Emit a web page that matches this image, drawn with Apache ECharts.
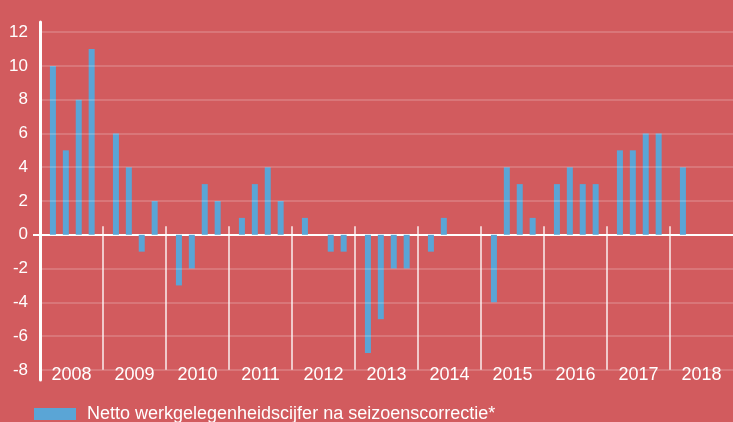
<!DOCTYPE html>
<html>
<head>
<meta charset="utf-8">
<script src="https://cdn.jsdelivr.net/npm/echarts@6/dist/echarts.min.js"></script>
<style>
html,body{margin:0;padding:0;background:#d25b5e;}
#c{width:733px;height:422px;}
</style>
</head>
<body>
<div id="c"></div>
<script>
const years = ['2008','2009','2010','2011','2012','2013','2014','2015','2016','2017','2018'];
const values2008 = [10, 5, 8, 11];
const values2009 = [6, 4, -1, 2];
const values2010 = [-3, -2, 3, 2];
const values2011 = [1, 3, 4, 2];
const values2012 = [1, 0, -1, -1];
const values2013 = [-7, -5, -2, -2];
const values2014 = [-1, 1, 0, 0];
const values2015 = [-4, 4, 3, 1];
const values2016 = [3, 4, 3, 3];
const values2017 = [5, 5, 6, 6];
const values2018 = [4];
const yTicks = [-8, -6, -4, -2, 0, 2, 4, 6, 8, 10, 12];
const seriesName = 'Netto werkgelegenheidscijfer na seizoenscorrectie*';

const allYears = [values2008, values2009, values2010, values2011, values2012, values2013,
  values2014, values2015, values2016, values2017, values2018];
const barData = [];
allYears.forEach((vals, i) => {
  vals.forEach((v, q) => {
    barData.push([i + (q + 1) * 0.205, v]);
  });
});
const gridStyle = {color: 'rgba(255,255,255,0.17)', width: 2, type: 'solid'};
const sepStyle = {color: 'rgba(255,255,255,0.9)', width: 1.5, type: 'solid'};
const markData = yTicks.filter(t => t !== 0).map(t => ({yAxis: t, lineStyle: gridStyle}));
for (let i = 1; i < years.length; i++) {
  markData.push([{coord: [i, 0.5], lineStyle: sepStyle}, {coord: [i, -8]}]);
}

const chart = echarts.init(document.getElementById('c'));
chart.setOption({
  backgroundColor: '#d25b5e',
  animation: false,
  textStyle: {fontFamily: 'Liberation Sans, Arial, sans-serif'},
  grid: {left: 40, top: 22, width: 696, height: 358, containLabel: false},
  legend: {
    left: 34, top: 405, padding: 0,
    icon: 'rect', itemWidth: 42, itemHeight: 12,
    textStyle: {color: '#fff', fontSize: 18, padding: [0, 0, 0, 6], fontFamily: 'Liberation Sans, Arial, sans-serif'},
    data: [seriesName]
  },
  xAxis: [{
    type: 'value', min: 0, max: 11,
    axisLine: {show: true, onZero: true, lineStyle: {color: '#ffffff', width: 2}},
    axisTick: {show: false}, axisLabel: {show: false}, splitLine: {show: false}
  }, {
    type: 'category', data: years, position: 'bottom', boundaryGap: true,
    axisLine: {show: false}, axisTick: {show: false}, splitLine: {show: false},
    axisLabel: {color: '#fff', fontSize: 18, margin: -14, fontFamily: 'Liberation Sans, Arial, sans-serif'}
  }],
  yAxis: {
    type: 'value', min: -8.6, max: 12.6,
    axisLine: {show: true, lineStyle: {color: '#ffffff', width: 3}},
    axisTick: {show: true, customValues: [0], length: 7, lineStyle: {color: '#fff', width: 2}},
    axisLabel: {customValues: yTicks, color: '#fff', fontSize: 17, margin: 12, fontFamily: 'Liberation Sans, Arial, sans-serif'},
    splitLine: {show: false}
  },
  series: [{
    name: seriesName, type: 'bar', xAxisIndex: 0,
    data: barData, barWidth: 6,
    itemStyle: {color: '#5aa5d6'},
    markLine: {
      silent: true, symbol: 'none', label: {show: false},
      data: markData
    },
    z: 3
  }]
});
</script>
</body>
</html>
